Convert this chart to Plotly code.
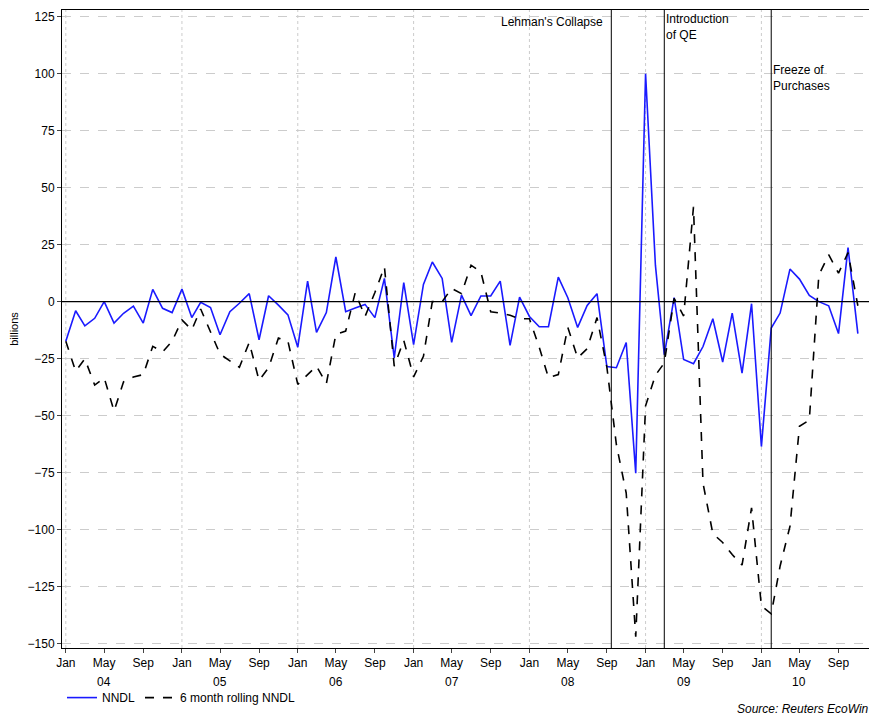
import pandas as pd
import plotly.graph_objects as go

months = pd.date_range("2004-01-01", "2010-11-01", freq="MS")

nndl = [-17.4, -4, -10.6, -7.3, 0, -9.4, -5.1, -2, -9.4, 5.4, -2.9, -4.8,
        5.5, -7, -0.3, -2.6, -14.5, -4.4, -0.7, 3.5, -16.7, 2.6, -1.5, -5.8,
        -20, 9, -13.5, -4.8, 19.6, -4.4, -2.8, -1.2, -7, 10.2, -24.7, 8.4,
        -18.9, 7.6, 17.4, 10.2, -17.9, 2.9, -6.1, 2.5, 2.5, 9, -19.2, 2,
        -6.5, -11, -11, 10.8, 1.7, -11.3, -1.7, 3.5, -28.5, -29, -17.9, -75.3,
        100, 16, -23.3, 1.8, -25.4, -27.2, -19.7, -7.5, -26.5, -5, -31.4, -0.9,
        -63.6, -11.6, -5, 14.3, 9.9, 2.7, 0, -1.8, -14, 23.7, -14]

rolling = [-17.4, -30.5, -25.1, -36.6, -33.4, -48, -35.2, -33.1, -32, -19.6, -22.1, -17.4,
           -8, -12.4, -3.2, -13, -23, -26, -28.8, -17.9, -34.6, -29, -16, -17.4,
           -36.3, -32, -28.3, -36, -14.3, -12.9, 3.9, -6.5, 4, 15.3, -28.3, -17,
           -33, -24, 0, 0, 5.8, 3.5, 16, 13, -4.4, -5, -6, -7.5,
           -7.5, -20, -33.4, -32, -11.3, -24.7, -20.6, -7, -28.7, -62.7, -84, -147,
           -45.7, -32.3, -26.9, 1.4, -6.3, 41.6, -79.7, -101.8, -105.7, -111, -115.6, -90.5,
           -133.5, -137, -116, -98.6, -54.7, -52, 11.6, 20.6, 12.5, 21.5, -1.8]

events = ["2008-09-15", "2009-03-01", "2010-02-01"]
event_text = ["Lehman's Collapse", "Introduction<br>of QE", "Freeze of<br>Purchases"]

tick_dates = pd.date_range("2004-01-01", "2010-09-01", freq="4MS")
tick_text = [d.strftime("%b") for d in tick_dates]
years = ["04", "05", "06", "07", "08", "09", "10"]

fig = go.Figure()
fig.add_trace(go.Scatter(x=months, y=nndl, mode="lines", name="NNDL",
                         line=dict(color="#1a1aff", width=1.6)))
fig.add_trace(go.Scatter(x=months, y=rolling, mode="lines", name="6 month rolling NNDL",
                         line=dict(color="black", width=1.6, dash="dash")))

for y in range(2004, 2011):
    fig.add_vline(x=f"{y}-01-01", line=dict(color="#cccccc", width=1, dash="dot"), layer="below")
for d in events:
    fig.add_shape(type="line", x0=d, x1=d, y0=0, y1=1, yref="paper",
                  line=dict(color="black", width=1))
fig.add_shape(type="line", x0=0, x1=1, xref="paper", y0=0, y1=0,
              line=dict(color="black", width=1.2))

fig.add_annotation(x=events[0], y=0.995, yref="paper", text=event_text[0], showarrow=False,
                   xanchor="right", xshift=-6, yanchor="top")
fig.add_annotation(x=events[1], y=1.0, yref="paper", text=event_text[1], showarrow=False,
                   xanchor="left", xshift=0, yanchor="top", align="left")
fig.add_annotation(x=events[2], y=0.92, yref="paper", text=event_text[2], showarrow=False,
                   xanchor="left", xshift=0, yanchor="top", align="left")

for yr in years:
    fig.add_annotation(x=f"20{yr}-05-01", y=0, yref="paper", yshift=-25, text=yr,
                       showarrow=False, yanchor="top")

fig.add_annotation(x=1, y=0, xref="paper", yref="paper", yshift=-52, xshift=-4, xanchor="right",
                   yanchor="top", showarrow=False, text="<i>Source: Reuters EcoWin</i>")

fig.update_layout(
    width=877, height=720, margin=dict(l=54, r=10, t=2, b=80, autoexpand=False),
    plot_bgcolor="white", paper_bgcolor="white",
    font=dict(family="Liberation Sans, Arial", size=12, color="black"),
    legend=dict(orientation="h", x=0.0, y=-0.055, xanchor="left", yanchor="top",
                font=dict(size=12), bgcolor="rgba(0,0,0,0)"),
)
fig.update_xaxes(range=["2003-12-20", "2010-12-25"], tickvals=tick_dates, ticktext=tick_text,
                 showgrid=False, ticks="outside", ticklen=4, showline=True, automargin=False,
                 linecolor="black", mirror=True, tickfont=dict(size=12))
fig.update_yaxes(range=[-152, 128], tickvals=list(range(-150, 126, 25)), title_text="billions",
                 title_font=dict(size=11), title_standoff=8, automargin=False,
                 gridcolor="#cccccc", griddash="dash",
                 ticks="outside", ticklen=4, showline=True, linecolor="black",
                 mirror=True, zeroline=False)

fig.write_html("out.html")
